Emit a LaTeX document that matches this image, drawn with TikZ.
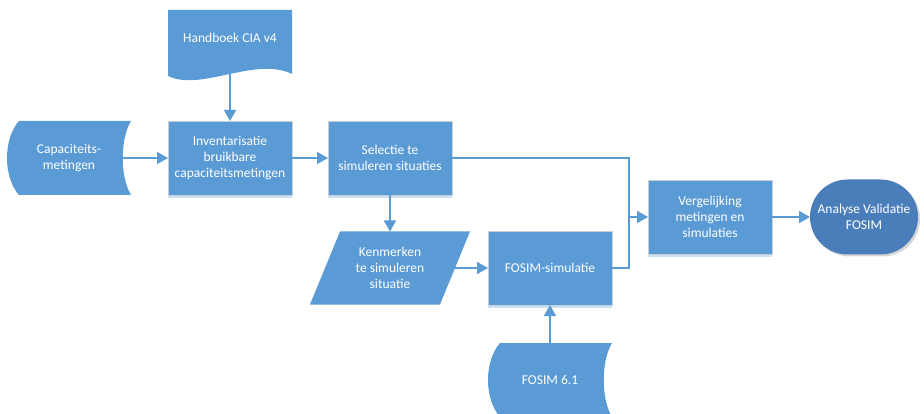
\documentclass[tikz,border=0pt]{standalone}
\usepackage{fontspec}
\setmainfont{Carlito}
\usetikzlibrary{positioning,calc,arrows.meta,backgrounds,shapes.misc,shadows}

\definecolor{flowblue}{HTML}{5B9BD5}
\definecolor{flowdark}{HTML}{4A7EBB}
\definecolor{flowedge}{HTML}{C5D0DB}

\newcommand{\storedfill}[1]{%
  \fill[flowblue] ($(#1.north west)+(12,0)$) -- (#1.north east)
    .. controls ($(#1.north east)+(-11,18)$) and ($(#1.south east)+(-11,-18)$) .. (#1.south east)
    -- ($(#1.south west)+(12,0)$)
    .. controls ($(#1.south west)+(-4,-18)$) and ($(#1.north west)+(-4,18)$) .. cycle;}

\begin{document}
\begin{tikzpicture}
[x=1pt,y=-1pt,
 every node/.style={font=\fontsize{13.5}{16}\selectfont,text=white,align=center,inner sep=1pt,outer sep=0pt},
 proc/.style={rectangle,fill=flowblue,draw=flowedge,line width=0.8pt,minimum width=124pt,minimum height=74pt,
              drop shadow={fill=flowblue!30,opacity=1,shadow xshift=0pt,shadow yshift=-3pt}},
 shapebox/.style={rectangle,minimum width=124pt,minimum height=74pt},
 term/.style={rounded rectangle,fill=flowdark,minimum width=110pt,minimum height=75pt,
              drop shadow={fill=black!40,opacity=0.4,shadow xshift=2pt,shadow yshift=-2pt}},
 flow/.style={draw=flowblue,line width=1.6pt,-{Triangle[length=11pt,width=12pt]}},
 link/.style={draw=flowblue,line width=1.6pt}]
\useasboundingbox (0,0) rectangle (924,414);

\node[shapebox] (cap) at (69,158)                            {Capaciteits-\\metingen};
\node[proc]     (inv) [on grid,right=161pt of cap]           {Inventarisatie\\bruikbare\\capaciteitsmetingen};
\node[shapebox,minimum height=56pt] (hb) [on grid,above=120pt of inv] {Handboek CIA v4};
\node[proc]     (sel) [on grid,right=160pt of inv]           {Selectie te\\simuleren situaties};
\node[shapebox,minimum width=130pt,minimum height=73pt] (ken) [on grid,below=110pt of sel] {Kenmerken\\te simuleren\\situatie};
\node[proc]     (sim) [on grid,right=160pt of ken]           {FOSIM-simulatie};
\node[shapebox] (fos) [on grid,below=112pt of sim]           {FOSIM 6.1};
\node[proc]     (verg) [on grid,above right=51pt and 160pt of sim] {Vergelijking\\metingen en\\simulaties};
\node[term]     (ana) [on grid,right=154pt of verg]          {Analyse Validatie\\FOSIM};

% shapes that tikz has no node shape for
\begin{scope}[on background layer]
\storedfill{cap}
\storedfill{fos}
\fill[flowblue] (hb.north west) -- (hb.north east) -- ($(hb.south east)+(0,8)$)
  .. controls ($(hb.south east)+(-37,-10)$) and ($(hb.south west)+(33,26)$) .. ($(hb.south west)+(0,10)$) -- cycle;
\fill[flowblue] ($(ken.south west)+(-15,0)$) -- ($(ken.north west)+(15,0)$)
  -- ($(ken.north east)+(15,0)$) -- ($(ken.south east)+(-15,0)$) -- cycle;
\end{scope}

\path[flow] ([xshift=-8pt]cap.east) -- (inv.west);
\path[flow] (hb.south) -- (inv.north);
\path[flow] (inv.east) -- (sel.west);
\path[flow] (sel.south) -- (ken.north);
\path[flow] (ken.east) -- (sim.west);
\path[flow] (fos.north) -- (sim.south);
\path[flow] (sel.east) -| ([xshift=-19pt]verg.west) -- (verg.west);
\path[link] (sim.east) -| ([xshift=-19pt]verg.west);
\path[flow] (verg.east) -- (ana.west);
\end{tikzpicture}
\end{document}
